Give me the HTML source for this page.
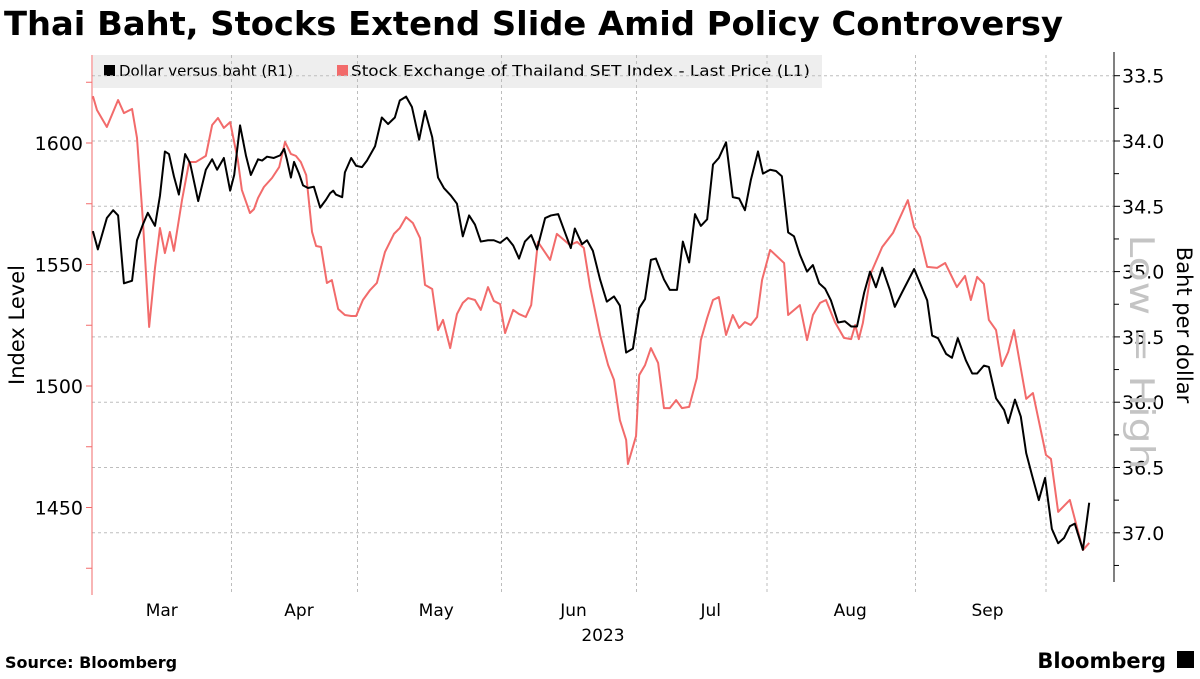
<!DOCTYPE html>
<html><head><meta charset="utf-8"><style>
body{margin:0;background:#fff;width:1200px;height:675px;overflow:hidden;font-family:"DejaVu Sans","Liberation Sans",sans-serif}
</style></head><body>
<svg id="chart" width="1200" height="675" xmlns="http://www.w3.org/2000/svg" font-family="DejaVu Sans, Liberation Sans, sans-serif">
<text x="4" y="35" font-size="33" font-weight="bold" fill="#000" textLength="1059" lengthAdjust="spacingAndGlyphs">Thai Baht, Stocks Extend Slide Amid Policy Controversy</text>
<rect x="93" y="55" width="729" height="33" fill="#eeeeee"/>
<rect x="104" y="65" width="11" height="11" fill="#000"/>
<text x="119" y="76" font-size="15" fill="#000" textLength="174" lengthAdjust="spacingAndGlyphs">Dollar versus baht (R1)</text>
<rect x="337" y="65" width="11" height="11" fill="#f26b6b"/>
<text x="351" y="76" font-size="15" fill="#000" textLength="459" lengthAdjust="spacingAndGlyphs">Stock Exchange of Thailand SET Index - Last Price (L1)</text>
<g id="grid"></g>
<g id="axes"></g>
<g id="series"></g>
<text transform="translate(24,325) rotate(-90)" text-anchor="middle" font-size="21" fill="#000">Index Level</text>
<text transform="translate(1177,325) rotate(90)" text-anchor="middle" font-size="21" fill="#000">Baht per dollar</text>
<text transform="translate(1130,352) rotate(90)" text-anchor="middle" font-size="34" fill="#c4c4c4" textLength="235" lengthAdjust="spacingAndGlyphs">Low = High</text>
<text x="603" y="641" text-anchor="middle" font-size="17" fill="#000">2023</text>
<text x="5" y="668" font-size="16" font-weight="bold" fill="#000">Source: Bloomberg</text>
<text x="1166" y="668" text-anchor="end" font-size="21" font-weight="bold" fill="#000">Bloomberg</text>
<rect x="1177" y="651" width="17" height="17" fill="#000"/>
</svg>
<script>
const bahtDays=[0.2,1.3,3.3,4.7,5.8,7.1,8.9,10.0,11.3,12.4,14.0,15.1,16.2,17.1,18.2,19.3,20.7,21.8,23.6,25.3,26.7,27.8,29.3,30.7,31.6,32.9,34.2,35.3,36.9,37.8,38.9,40.4,41.8,42.7,43.3,44.2,44.9,46.0,46.9,48.0,49.3,50.7,52.0,52.9,53.6,54.2,55.6,56.2,57.6,58.7,60.0,61.1,62.9,64.4,65.8,67.3,68.4,69.8,71.1,72.7,74.0,75.6,76.9,78.2,79.8,81.1,82.4,83.8,85.1,86.4,88.0,89.3,90.7,92.2,93.6,94.9,96.2,97.6,98.9,100.7,102.0,103.6,105.1,106.4,107.3,108.9,110.0,111.3,112.9,114.4,116.0,117.3,118.7,120.2,121.6,122.9,124.2,125.3,127.1,128.4,130.0,131.3,132.7,134.0,135.3,136.7,138.0,139.3,140.9,142.4,143.8,145.1,146.4,148.0,149.1,150.7,152.0,153.3,154.7,156.0,157.3,158.9,160.2,161.6,162.9,164.2,165.8,167.3,168.7,170.0,171.6,172.9,174.2,175.6,177.3,178.4,180.0,182.7,185.6,186.7,188.0,189.8,191.1,192.4,194.2,195.6,196.7,198.2,199.3,200.9,202.7,203.6,205.1,206.4,207.6,208.9,210.4,211.8,213.3,214.7,216.0,217.3,218.4,220.2,221.6];
const bahtValues=[34.69,34.83,34.59,34.53,34.57,35.09,35.07,34.76,34.64,34.55,34.65,34.42,34.08,34.10,34.27,34.41,34.10,34.17,34.46,34.22,34.14,34.22,34.13,34.38,34.26,33.88,34.11,34.26,34.14,34.15,34.12,34.13,34.11,34.06,34.14,34.28,34.16,34.25,34.34,34.36,34.35,34.51,34.45,34.40,34.38,34.41,34.43,34.24,34.13,34.19,34.20,34.15,34.04,33.82,33.87,33.82,33.69,33.66,33.74,33.99,33.77,33.97,34.28,34.36,34.42,34.48,34.73,34.57,34.64,34.77,34.76,34.76,34.78,34.74,34.80,34.90,34.77,34.72,34.83,34.59,34.57,34.56,34.70,34.82,34.67,34.79,34.76,34.84,35.06,35.23,35.19,35.26,35.62,35.59,35.28,35.21,34.91,34.90,35.06,35.14,35.14,34.77,34.93,34.56,34.65,34.60,34.18,34.13,34.01,34.43,34.44,34.53,34.30,34.08,34.25,34.22,34.23,34.27,34.70,34.73,34.87,35.00,34.95,35.09,35.13,35.22,35.39,35.38,35.42,35.42,35.16,35.00,35.12,34.97,35.14,35.27,35.16,34.98,35.22,35.49,35.51,35.63,35.66,35.51,35.68,35.78,35.78,35.72,35.73,35.97,36.06,36.16,35.98,36.11,36.39,36.56,36.75,36.58,36.97,37.08,37.04,36.95,36.93,37.13,36.77];
const setDays=[0.2,1.1,3.3,5.8,7.1,8.9,10.0,11.3,12.7,14.0,15.1,16.2,17.3,18.2,20.0,21.6,23.1,25.3,26.7,28.0,29.3,30.7,32.4,33.3,35.1,36.0,36.9,38.2,40.0,41.6,42.9,44.2,45.3,46.4,47.6,48.9,49.8,50.9,52.2,53.3,54.7,56.2,57.6,58.7,60.2,61.8,63.3,65.1,67.1,68.4,69.8,71.3,72.9,74.0,75.6,76.9,78.0,79.6,81.1,82.4,83.6,85.1,86.4,88.0,89.3,90.7,91.8,93.6,94.9,96.4,97.6,99.1,101.8,103.3,104.9,106.2,107.8,109.3,110.7,112.9,114.7,116.0,117.3,118.7,119.1,120.9,121.6,122.9,124.2,125.8,127.1,128.4,129.8,131.1,132.7,134.4,135.3,136.7,138.0,139.3,140.9,142.4,143.8,145.1,146.4,147.8,148.9,150.7,153.8,154.7,157.3,158.9,160.2,161.8,163.1,165.1,167.1,168.7,169.6,170.4,171.3,173.1,175.6,178.0,181.3,182.7,184.0,185.6,187.8,189.6,192.2,194.0,195.3,196.7,198.2,199.3,200.9,202.2,203.6,204.9,207.6,209.1,212.0,213.1,214.7,217.3,220.2,221.6];
const setValues=[1619.3,1613.6,1606.6,1617.7,1612.3,1614.0,1602.1,1568.3,1524.3,1548.6,1565.0,1554.7,1563.4,1555.6,1576.5,1592.2,1592.2,1594.7,1607.4,1610.3,1606.2,1608.6,1593.0,1580.7,1571.2,1572.8,1577.4,1581.9,1585.6,1590.1,1600.4,1595.5,1594.7,1592.2,1586.8,1563.4,1557.6,1557.2,1542.4,1543.6,1531.7,1529.2,1528.8,1528.8,1535.4,1539.5,1542.4,1555.1,1562.6,1565.0,1569.5,1567.1,1560.9,1541.6,1539.9,1523.0,1527.2,1515.6,1529.6,1534.2,1536.2,1535.4,1531.3,1540.7,1535.0,1533.7,1521.8,1531.3,1529.6,1528.4,1533.3,1559.3,1551.9,1562.6,1560.1,1558.0,1559.3,1556.8,1540.7,1521.0,1508.6,1502.5,1486.0,1477.8,1467.9,1479.4,1504.5,1508.6,1515.6,1509.5,1490.9,1490.9,1494.2,1490.9,1491.4,1503.3,1518.9,1528.0,1535.4,1536.6,1521.0,1529.2,1523.9,1526.3,1525.1,1528.4,1543.6,1556.0,1550.6,1529.2,1533.3,1518.9,1529.2,1534.2,1535.4,1526.3,1519.8,1519.3,1525.1,1519.3,1525.9,1546.5,1557.2,1563.0,1576.5,1565.4,1561.3,1549.0,1548.6,1550.6,1540.7,1545.3,1535.4,1544.9,1542.0,1527.2,1523.0,1508.2,1514.0,1523.0,1494.7,1497.1,1471.6,1470.0,1448.2,1453.1,1432.5,1435.4];
const leftTicks=[1450,1500,1550,1600];
const rightTicks=[33.5,34.0,34.5,35.0,35.5,36.0,36.5,37.0];
const monthLabels=["Mar","Apr","May","Jun","Jul","Aug","Sep"];
const monthMid=[15.5,46,76.5,107,137.5,168.5,199];
const gridDays=[31,59,91,121,150,183,212];

const NS="http://www.w3.org/2000/svg";
const X=d=>92+d*4.5;
const YL=v=>143+(1600-v)*2.43;
const YR=v=>141+(v-34)*130.6;
function mk(tag,attrs,parent){const e=document.createElementNS(NS,tag);for(const k in attrs)e.setAttribute(k,attrs[k]);parent.appendChild(e);return e;}
const grid=document.getElementById('grid'),axes=document.getElementById('axes'),series=document.getElementById('series');
rightTicks.forEach(v=>{
  const l=mk('line',{x1:92,x2:1114,y1:YR(v),y2:YR(v),stroke:'#bdbdbd','stroke-dasharray':'3,3','stroke-width':1},grid);
  
  
  const t=mk('line',{x1:1114,x2:1120,y1:YR(v),y2:YR(v),stroke:'#000'},axes);
  
  
  const tx=mk('text',{x:1122,y:YR(v)+7,'font-size':19,fill:'#000'},axes);tx.textContent=v.toFixed(1);
  
  
});
for(let v=33.75;v<37.3;v+=0.5){
  const t=mk('line',{x1:1114,x2:1119,y1:YR(v),y2:YR(v),stroke:'#000'},axes);
  
  
}
gridDays.forEach(d=>{
  const l=mk('line',{x1:X(d),x2:X(d),y1:55,y2:595,stroke:'#bdbdbd','stroke-dasharray':'3,3'},grid);
  
  
});
monthLabels.forEach((m,i)=>{
  const t=mk('text',{x:X(monthMid[i]),y:616,'text-anchor':'middle','font-size':17,fill:'#000'},axes);t.textContent=m;
  
  
});
const la=mk('line',{x1:92,x2:92,y1:55,y2:595,stroke:'#f26b6b'},axes);


const ra=mk('line',{x1:1114,x2:1114,y1:52,y2:582,stroke:'#000'},axes);


for(let v=1425;v<=1625;v+=25){
  const t=mk('line',{x1:86,x2:92,y1:YL(v),y2:YL(v),stroke:'#f26b6b'},axes);
  
  
}
leftTicks.forEach(v=>{
  const tx=mk('text',{x:83,y:YL(v)+7,'text-anchor':'end','font-size':19,fill:'#000'},axes);tx.textContent=v;
  
  
});
const setPath=mk('polyline',{points:setDays.map((d,i)=>X(d)+','+YL(setValues[i])).join(' '),fill:'none',stroke:'#f26b6b','stroke-width':2,'stroke-linejoin':'round'},series);


const bahtPath=mk('polyline',{points:bahtDays.map((d,i)=>X(d)+','+YR(bahtValues[i])).join(' '),fill:'none',stroke:'#000','stroke-width':2,'stroke-linejoin':'round'},series);


</script>
</body></html>
